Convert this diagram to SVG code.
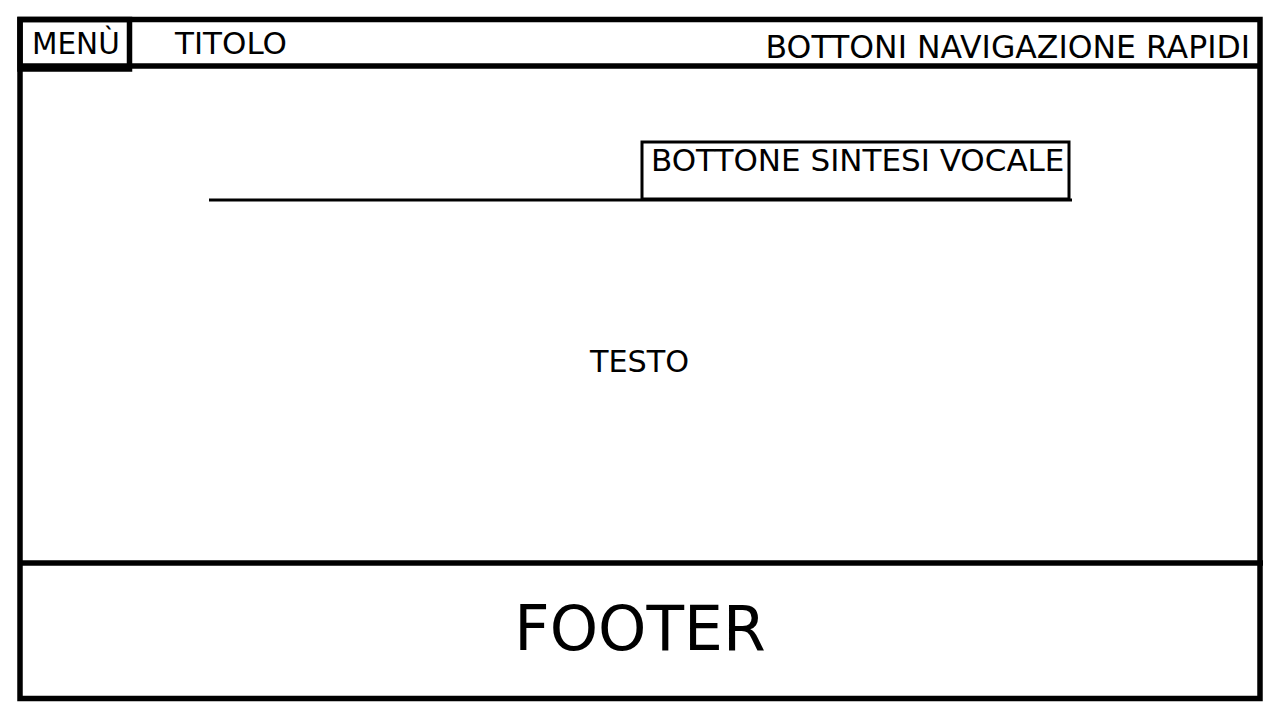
<svg xmlns="http://www.w3.org/2000/svg" width="1280" height="720" viewBox="0 0 1280 720">
<style>
.frame{fill:none;stroke:#000;stroke-width:5.5}
.thin{fill:none;stroke:#000;stroke-width:3}
text{font-family:"DejaVu Sans","Verdana",sans-serif;fill:#000}
.lbl{font-size:31.5px}
</style>
<rect width="1280" height="720" fill="#fff"/>
<g id="page">
<rect class="frame" x="20" y="19.5" width="1240" height="679"/>
</g>
<g id="header">
<line class="frame" x1="20" y1="66" x2="1260" y2="66"/>
<text class="lbl" x="175" y="54" style="font-size:31px">TITOLO</text>
<text class="lbl" x="1250" y="58" text-anchor="end">BOTTONI NAVIGAZIONE RAPIDI</text>
</g>
<g id="menu">
<rect class="frame" x="20" y="19.5" width="109.5" height="49.5"/>
<text class="lbl" x="32" y="54" style="font-size:29.5px">MENÙ</text>
</g>
<g id="sintesi">
<rect class="thin" x="642" y="142" width="427" height="57"/>
<text class="lbl" x="651" y="171" style="font-size:31px">BOTTONE SINTESI VOCALE</text>
</g>
<g id="connectors">
<line class="thin" x1="209" y1="200" x2="1072" y2="200"/>
</g>
<g id="testo">
<text class="lbl" x="639.5" y="372" text-anchor="middle" style="font-size:30.3px">TESTO</text>
</g>
<g id="footer">
<line class="frame" x1="20" y1="563" x2="1263" y2="563"/>
<text x="640" y="650" text-anchor="middle" style="font-size:61.5px">FOOTER</text>
</g>
</svg>
